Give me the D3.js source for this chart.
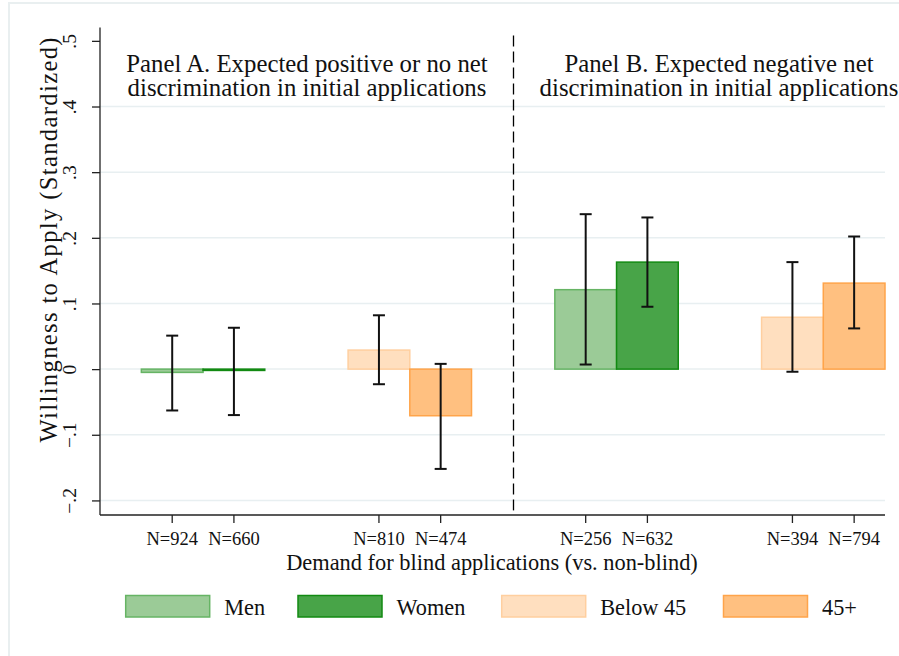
<!DOCTYPE html>
<html>
<head>
<meta charset="utf-8">
<script src="https://cdn.jsdelivr.net/npm/d3@7"></script>
<style>
  html, body { margin: 0; padding: 0; background: #fff; }
  svg { display: block; }
  text { font-family: "Liberation Serif", "Times New Roman", serif; fill: #111; }
</style>
</head>
<body>
<svg id="chart" width="899" height="656"></svg>
<script>
// Willingness to apply (standardized), by panel and subgroup
const seriesNames = ["Men", "Women", "Below 45", "45+"];
const barSeries   = ["Men", "Women", "Below 45", "45+", "Men", "Women", "Below 45", "45+"];
const barGroup    = [0, 0, 1, 1, 2, 2, 3, 3];
const barSlot     = [0, 1, 0, 1, 0, 1, 0, 1];
const means       = [-0.005, -0.002, 0.029, -0.071, 0.121, 0.163, 0.079, 0.131];
const ciLow       = [-0.063, -0.070, -0.023, -0.152, 0.007, 0.095, -0.004, 0.062];
const ciHigh      = [0.051, 0.063, 0.082, 0.008, 0.236, 0.231, 0.163, 0.202];
const nObs        = [924, 660, 810, 474, 256, 632, 394, 794];
const yTicks      = [-0.2, -0.1, 0, 0.1, 0.2, 0.3, 0.4, 0.5];
const yGrid       = [-0.2, -0.1, 0, 0.1, 0.2, 0.3, 0.4];
const panelTitles = [
  ["Panel A. Expected positive or no net", "discrimination in initial applications"],
  ["Panel B. Expected negative net", "discrimination in initial applications"]
];
const xTitle = "Demand for blind applications (vs. non-blind)";
const yTitle = "Willingness to Apply (Standardized)";

// series styling
const fillColor   = { "Men": "#9bcb97", "Women": "#48a448", "Below 45": "#ffdfbf", "45+": "#ffc080" };
const strokeColor = { "Men": "#66b464", "Women": "#128a12", "Below 45": "#ffcf9f", "45+": "#ffa44a" };

const svg = d3.select("#chart");
const plot = { left: 100, right: 885, top: 27.4, bottom: 515 };

// outer graph-region frame
svg.append("rect")
  .attr("x", 9).attr("y", 3).attr("width", 899).attr("height", 700)
  .attr("fill", "none").attr("stroke", "#e9eff0").attr("stroke-width", 2);

const y = d3.scaleLinear().domain([-0.2222, 0.5205]).range([plot.bottom, plot.top]);
const xGroup = d3.scaleBand().domain([0, 1, 2, 3]).range([plot.left, plot.right])
  .paddingInner(0.403).paddingOuter(0.1).align(1);
const xSlot = d3.scaleBand().domain([0, 1]).range([0, xGroup.bandwidth()]);
const barX = i => xGroup(barGroup[i]) + xSlot(barSlot[i]);
const barCx = i => barX(i) + xSlot.bandwidth() / 2;

// gridlines
svg.append("g").selectAll("line").data(yGrid).join("line")
  .attr("x1", plot.left).attr("x2", plot.right)
  .attr("y1", d => y(d)).attr("y2", d => y(d))
  .attr("stroke", "#e8eff1").attr("stroke-width", 1.5);

// bars
const idx = d3.range(means.length);
svg.append("g").selectAll("rect").data(idx).join("rect")
  .attr("x", i => barX(i))
  .attr("width", xSlot.bandwidth())
  .attr("y", i => y(Math.max(0, means[i])))
  .attr("height", i => Math.abs(y(means[i]) - y(0)))
  .attr("fill", i => fillColor[barSeries[i]])
  .attr("stroke", i => strokeColor[barSeries[i]])
  .attr("stroke-width", 1.5);

// confidence intervals
const ci = svg.append("g").attr("stroke", "#111").attr("stroke-width", 2);
idx.forEach(i => {
  const cx = barCx(i);
  ci.append("line").attr("x1", cx).attr("x2", cx).attr("y1", y(ciLow[i])).attr("y2", y(ciHigh[i]));
  ci.append("line").attr("x1", cx - 6).attr("x2", cx + 6).attr("y1", y(ciLow[i])).attr("y2", y(ciLow[i]));
  ci.append("line").attr("x1", cx - 6).attr("x2", cx + 6).attr("y1", y(ciHigh[i])).attr("y2", y(ciHigh[i]));
});

// panel divider
const midX = Math.round((xGroup(1) + xGroup.bandwidth() + xGroup(2)) / 2) + 0.5;
svg.append("line")
  .attr("x1", midX).attr("x2", midX).attr("y1", plot.top + 8).attr("y2", plot.bottom)
  .attr("stroke", "#000").attr("stroke-width", 1.3).attr("stroke-dasharray", "11,5");

// y axis
const yAxis = d3.axisLeft(y).tickValues(yTicks).tickSize(8).tickPadding(0)
  .tickFormat(d => d === 0 ? "0" : d3.format(".1f")(d).replace("0.", "."));
const gy = svg.append("g").attr("transform", `translate(${plot.left},0)`).call(yAxis);
gy.select(".domain").attr("stroke", "#222").attr("stroke-width", 1.3)
  .attr("d", `M0,${plot.top}V${plot.bottom}`);
gy.selectAll(".tick line").attr("stroke", "#222").attr("stroke-width", 1.3);
gy.selectAll(".tick text")
  .attr("x", 0).attr("dy", null)
  .attr("transform", "translate(-24,0) rotate(-90)")
  .attr("text-anchor", "middle")
  .style("font-family", "Liberation Serif, serif")
  .style("font-size", "19.5px").attr("fill", "#111");

// x axis
const gx = svg.append("g").attr("transform", `translate(0,${plot.bottom})`);
gx.append("line").attr("x1", plot.left).attr("x2", plot.right)
  .attr("stroke", "#222").attr("stroke-width", 1.3);
gx.selectAll("line.tk").data(idx).join("line").attr("class", "tk")
  .attr("x1", i => barCx(i)).attr("x2", i => barCx(i)).attr("y1", 0).attr("y2", 8)
  .attr("stroke", "#222").attr("stroke-width", 1.3);
gx.selectAll("text").data(idx).join("text")
  .attr("x", i => barCx(i)).attr("y", 29.5)
  .attr("text-anchor", "middle").style("font-size", "18.5px")
  .text(i => "N=" + nObs[i]);

// axis titles
svg.append("text").attr("x", (plot.left + plot.right) / 2 - 0.5).attr("y", 569.5)
  .attr("text-anchor", "middle").style("font-size", "22.4px").text(xTitle);
svg.append("text").attr("transform", "translate(56.5,240) rotate(-90)")
  .attr("text-anchor", "middle").style("font-size", "24.5px")
  .attr("textLength", 405).attr("lengthAdjust", "spacing").text(yTitle);

// panel titles
const titleX = [307, 719];
panelTitles.forEach((lines, p) => {
  const t = svg.append("text").attr("text-anchor", "middle").style("font-size", "24.8px");
  lines.forEach((s, k) => t.append("tspan").attr("x", titleX[p]).attr("y", 71.5 + k * 24.5).text(s));
});

// legend
const legendX = [125.7, 298, 501.7, 723.5];
const lg = svg.append("g");
seriesNames.forEach((s, k) => {
  lg.append("rect").attr("x", legendX[k]).attr("y", 595.5).attr("width", 84).attr("height", 21.5)
    .attr("fill", fillColor[s]).attr("stroke", strokeColor[s]).attr("stroke-width", 1.5);
  lg.append("text").attr("x", legendX[k] + 98.5).attr("y", 614.5).style("font-size", "22.3px").text(s);
});
</script>
</body>
</html>
